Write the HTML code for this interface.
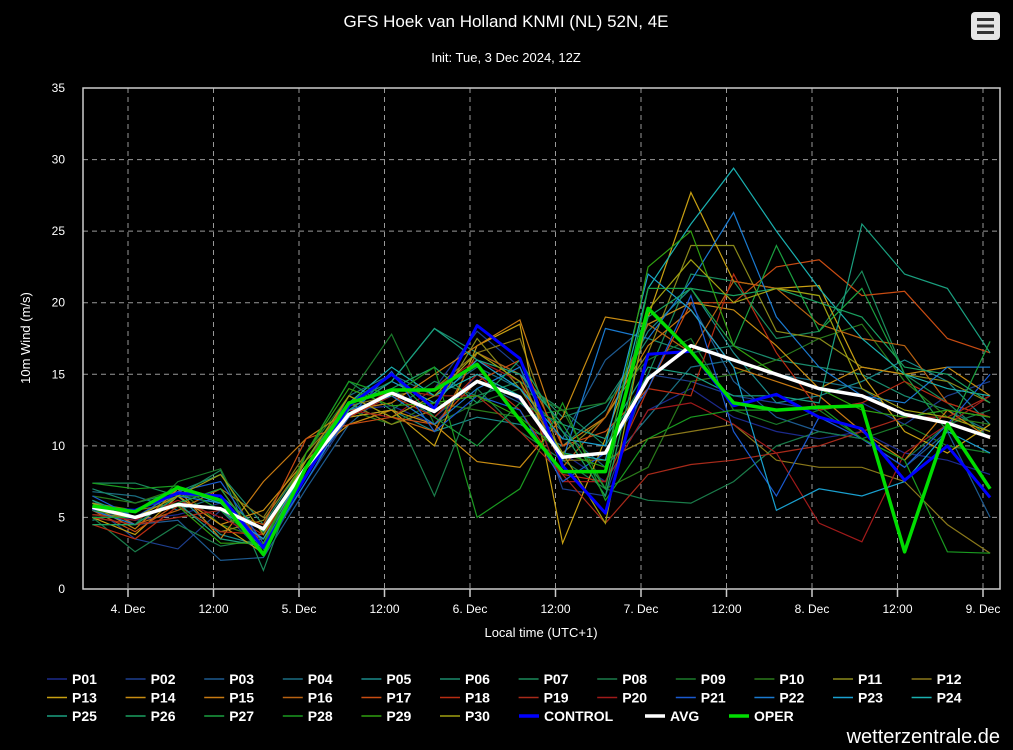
<!DOCTYPE html>
<html><head><meta charset="utf-8"><style>
html,body{margin:0;padding:0;background:#000;width:1013px;height:750px;overflow:hidden;font-family:"Liberation Sans",sans-serif}
svg{display:block}
</style></head><body>
<svg id="chart" width="1013" height="750" xmlns="http://www.w3.org/2000/svg">
<text x="506" y="27" fill="#fff" font-size="17" text-anchor="middle">GFS Hoek van Holland KNMI (NL) 52N, 4E</text>
<text x="506" y="62" fill="#fff" font-size="13" text-anchor="middle">Init: Tue, 3 Dec 2024, 12Z</text>
<g>
<rect x="971" y="12" width="29" height="28" rx="4" fill="#e6e6e6"/>
<rect x="977" y="18" width="17" height="3" fill="#333"/><rect x="977" y="24.5" width="17" height="3" fill="#333"/><rect x="977" y="31" width="17" height="3" fill="#333"/>
</g>
<g id="grid"></g>
<g id="series"></g>
<rect x="83" y="88" width="917" height="501" fill="none" stroke="#ccc" stroke-width="1.5"/>
<text transform="translate(30,338) rotate(-90)" fill="#fff" font-size="13" text-anchor="middle">10m Wind (m/s)</text>
<text x="541" y="637" fill="#fff" font-size="13" text-anchor="middle">Local time (UTC+1)</text>
<g id="legend"></g>
<text x="1000" y="743" fill="#fff" font-size="20" text-anchor="end">wetterzentrale.de</text>
</svg>
<script>
const yTicks=[0,5,10,15,20,25,30,35];
const xTickLabels=["4. Dec","12:00","5. Dec","12:00","6. Dec","12:00","7. Dec","12:00","8. Dec","12:00","9. Dec"];
const xTickHours=[0,12,24,36,48,60,72,84,96,108,120];
const timeHours=[-5,1,7,13,19,25,31,37,43,49,55,61,67,73,79,85,91,97,103,109,115,121];
const avgValues=[5.7,5.0,5.9,5.6,4.2,8.5,12.2,13.7,12.4,14.5,13.4,9.2,9.5,14.7,17.0,16.0,15.0,14.0,13.5,12.2,11.6,10.6];
const operValues=[5.8,5.4,7.1,6.2,2.4,8.5,13.0,13.9,13.9,15.7,11.8,8.2,8.2,19.6,16.6,13.0,12.5,12.7,12.8,2.6,11.5,7.0];
const controlValues=[5.6,5.5,6.7,6.5,2.9,7.9,12.8,15.0,12.6,18.4,16.1,8.6,5.3,16.4,16.6,12.8,13.6,12.0,11.2,7.6,10.0,6.4];
const memberNames=["P01","P02","P03","P04","P05","P06","P07","P08","P09","P10","P11","P12","P13","P14","P15","P16","P17","P18","P19","P20","P21","P22","P23","P24","P25","P26","P27","P28","P29","P30"];
const memberColors=["#1c2a8c","#1d3f8f","#1d5a90","#1a6e82","#1a8a8a","#1a8a6c","#1a8a5a","#1a7c4a","#1a7a2a","#2a7a1a","#8a8a1a","#8a781a","#c8a012","#c88c12","#c87a12","#b86212","#c84c12","#b82c12","#a82a1a","#a01a1a","#1a5ad0","#1a7ad0","#1aa0d0","#1ab0b0","#1aa080","#1aa060","#1aa040","#1a9a20","#30a010","#a0a010"];
const m01=[5.5,4.8,5.2,6.0,3.5,8.0,12.5,12.8,11.5,15.0,13.2,9.5,7.5,12.5,14.0,12.0,11.0,10.5,11.0,9.5,9.0,8.0];
const m02=[5.8,3.5,2.8,5.5,2.5,7.5,12.0,13.5,14.0,18.0,15.5,7.0,6.5,15.0,14.5,13.5,13.0,12.5,13.0,11.5,13.5,14.5];
const m03=[6.2,4.5,4.8,2.0,2.2,7.0,11.5,14.0,12.0,14.5,13.0,10.5,16.0,18.5,20.0,14.5,12.0,11.0,10.5,8.5,11.0,5.0];
const m04=[6.8,6.5,5.5,6.5,4.0,8.0,13.5,15.0,13.5,15.5,14.0,11.0,8.5,12.0,15.5,16.0,15.0,14.5,14.0,12.0,12.5,11.0];
const m05=[4.8,5.5,6.5,3.8,3.0,8.5,12.0,12.5,11.0,12.0,11.5,10.0,12.5,18.0,21.0,16.5,13.0,13.5,14.5,16.0,14.5,11.5];
const m06=[7.0,6.0,6.8,8.0,4.5,9.0,13.0,14.5,18.2,16.5,15.0,12.0,13.0,17.5,16.5,17.0,16.0,15.5,15.0,13.5,12.5,12.0];
const m07=[7.4,7.4,6.5,8.3,1.3,9.5,14.5,12.5,14.5,13.5,14.5,12.5,10.0,15.0,22.0,21.5,17.5,18.0,22.2,15.0,13.0,10.5];
const m08=[5.0,2.6,4.5,3.0,3.5,8.0,12.5,13.0,6.5,14.0,11.0,9.0,7.0,6.2,6.0,7.5,10.0,11.0,10.5,9.0,11.5,12.5];
const m09=[4.5,4.5,7.5,8.4,2.5,9.5,13.5,17.8,11.5,13.0,14.0,12.5,13.0,16.0,17.5,12.5,11.5,12.5,10.5,11.5,10.0,9.5];
const m10=[6.5,6.0,7.0,4.5,3.5,8.5,12.5,11.5,13.0,12.5,12.0,12.5,7.0,8.5,14.5,15.0,16.0,17.5,18.5,14.5,12.0,11.5];
const m11=[5.2,5.0,5.8,4.0,4.8,9.0,13.0,11.5,12.5,17.5,14.0,9.5,12.0,16.5,24.0,24.0,18.0,17.5,15.5,15.0,14.5,13.0];
const m12=[6.0,5.5,6.0,7.0,5.0,9.5,12.8,13.5,14.0,16.5,17.5,9.0,9.0,10.5,11.0,11.5,9.0,8.5,8.5,7.5,4.5,2.5];
const m13=[5.0,3.8,6.5,4.5,2.5,8.0,12.0,12.5,10.0,17.0,18.5,3.2,10.5,19.0,27.7,21.5,21.0,21.2,15.0,11.0,9.5,11.5];
const m14=[5.5,5.0,6.5,4.5,5.5,9.0,11.5,12.5,11.5,8.9,8.5,12.0,19.0,18.5,20.0,19.5,17.0,14.0,15.5,15.0,15.5,13.5];
const m15=[5.8,4.2,7.0,3.5,7.5,10.5,12.5,13.0,15.0,17.0,18.8,10.0,12.0,17.0,19.5,15.5,14.5,13.5,11.0,9.0,12.5,10.5];
const m16=[6.0,4.5,5.5,7.0,3.0,8.5,13.5,12.0,11.0,16.5,15.0,8.5,12.0,18.5,16.5,21.5,21.0,18.5,17.5,17.0,13.0,12.0];
const m17=[5.5,4.0,6.0,5.5,4.5,10.5,11.5,12.0,11.5,14.5,16.0,10.0,11.0,14.0,20.0,20.0,22.5,23.0,20.5,20.8,17.5,16.5];
const m18=[4.5,3.5,5.8,4.0,3.8,8.0,12.0,13.5,12.0,15.0,12.5,8.0,7.5,14.0,13.5,22.0,16.5,12.5,13.0,14.5,13.0,12.0];
const m19=[5.0,4.5,5.0,5.5,3.8,8.5,12.0,14.0,13.5,13.5,11.0,8.0,4.6,8.0,8.7,9.0,9.5,10.0,11.0,12.0,12.0,13.5];
const m20=[5.2,4.8,6.2,5.0,3.5,9.0,12.5,12.0,14.0,16.0,14.5,7.5,7.5,12.5,13.0,11.5,9.5,4.6,3.3,9.5,11.5,13.5];
const m21=[6.5,5.0,6.8,7.5,3.2,8.0,12.0,15.2,11.0,13.5,12.5,7.5,9.5,14.0,20.5,11.0,6.5,12.0,10.5,8.5,11.5,15.0];
const m22=[5.5,4.5,6.5,6.0,2.8,7.5,12.5,13.5,11.5,14.0,15.5,9.0,18.2,17.5,21.5,26.3,19.0,15.5,13.5,13.0,15.5,15.5];
const m23=[6.0,5.0,6.0,5.5,3.5,8.5,12.5,14.5,13.0,16.0,14.0,10.5,10.0,22.0,19.5,15.5,5.5,7.0,6.5,7.5,11.0,9.5];
const m24=[5.5,5.5,7.0,6.0,3.0,8.0,13.0,15.5,13.5,15.0,13.5,9.5,9.0,21.0,25.5,29.4,25.0,21.0,17.5,15.0,14.0,13.5];
const m25=[6.2,5.0,6.0,3.5,3.0,8.5,12.5,14.5,18.2,16.0,15.0,11.5,10.5,15.5,15.0,13.5,13.5,13.0,25.5,22.0,21.0,16.5];
const m26=[4.5,4.5,6.5,6.5,4.0,9.0,13.0,14.0,15.5,13.0,16.0,11.0,6.5,19.0,21.0,20.5,21.0,20.0,19.0,15.5,15.0,13.0];
const m27=[5.0,5.0,6.0,7.0,2.8,8.5,13.0,15.0,12.0,10.0,13.0,11.5,7.0,21.0,21.0,17.0,24.0,18.0,21.0,15.0,11.0,17.3];
const m28=[7.4,7.0,7.2,5.5,3.0,9.5,14.5,13.5,15.5,5.0,7.0,13.0,6.2,10.5,12.0,12.5,12.5,12.8,10.5,9.0,2.6,2.5];
const m29=[5.5,5.0,5.8,3.2,3.2,9.5,14.0,12.8,13.0,13.5,12.0,9.5,8.5,22.5,25.0,17.0,15.0,14.0,12.5,12.0,12.5,12.0];
const m30=[6.0,5.0,6.5,8.0,3.8,9.0,13.5,12.0,13.5,16.5,14.5,9.5,4.6,19.5,23.0,20.0,21.0,20.5,14.0,12.5,12.0,11.0];
const members=[m01,m02,m03,m04,m05,m06,m07,m08,m09,m10,m11,m12,m13,m14,m15,m16,m17,m18,m19,m20,m21,m22,m23,m24,m25,m26,m27,m28,m29,m30];

const NS="http://www.w3.org/2000/svg";
const X0=83,X1=1000,Y0=589,Y1=88;
function xScale(h){return 128+h*85.5/12;}
function yScale(v){return Y0-(v/35)*(Y0-Y1);}
function mk(tag,attrs,parent){const e=document.createElementNS(NS,tag);for(const k in attrs)e.setAttribute(k,attrs[k]);parent.appendChild(e);return e;}
const grid=document.getElementById('grid');
yTicks.forEach(v=>{
  const y=yScale(v);
  if(v>0&&v<35){const l=mk('line',{x1:X0,x2:X1,y1:y,y2:y,stroke:'#999','stroke-dasharray':'5,4','stroke-width':1},grid);
  
  }
  const t=mk('text',{x:65,y:y+4,fill:'#fff','font-size':12,'text-anchor':'end'},grid);t.textContent=v;
  
  
});
xTickHours.forEach((h,i)=>{
  const x=xScale(h);
  const l=mk('line',{x1:x,x2:x,y1:Y1,y2:Y0,stroke:'#999','stroke-dasharray':'5,4','stroke-width':1},grid);
  
  
  const tk=mk('line',{x1:x,x2:x,y1:Y0,y2:Y0+8,stroke:'#ccc','stroke-width':1.5},grid);
  
  
  const t=mk('text',{x:x,y:613,fill:'#fff','font-size':12,'text-anchor':'middle'},grid);t.textContent=xTickLabels[i];
  
  
});
const sg=document.getElementById('series');
function pts(vals){return vals.map((v,i)=>xScale(timeHours[i]).toFixed(1)+','+yScale(v).toFixed(1)).join(' ');}
members.forEach((vals,i)=>{
  const p=mk('polyline',{points:pts(vals),fill:'none',stroke:memberColors[i],'stroke-width':1.2},sg);
  
  
});
const pc=mk('polyline',{points:pts(controlValues),fill:'none',stroke:'#0000ff','stroke-width':3,'stroke-linejoin':'round'},sg);


const pa=mk('polyline',{points:pts(avgValues),fill:'none',stroke:'#ffffff','stroke-width':3.5,'stroke-linejoin':'round'},sg);


const po=mk('polyline',{points:pts(operValues),fill:'none',stroke:'#00dd00','stroke-width':3.5,'stroke-linejoin':'round'},sg);


// legend
const lg=document.getElementById('legend');
const legNames=memberNames.concat(["CONTROL","AVG","OPER"]);
const legColors=memberColors.concat(["#0000ff","#ffffff","#00dd00"]);
const specialX=[519,645,729];
legNames.forEach((n,i)=>{
  const col=i%12,row=Math.floor(i/12);
  const x=i>=30?specialX[i-30]:47+col*78.6;
  const y=683+row*18.5;
  const g=mk('g',{},lg);
  
  
  const thick=i>=30;
  mk('line',{x1:x,x2:x+20,y1:y-4,y2:y-4,stroke:legColors[i],'stroke-width':thick?3.5:1.5},g);
  const t=mk('text',{x:x+25,y:y+1,fill:'#fff','font-size':14,'font-weight':'bold'},g);t.textContent=n;
});
</script>
</body></html>
